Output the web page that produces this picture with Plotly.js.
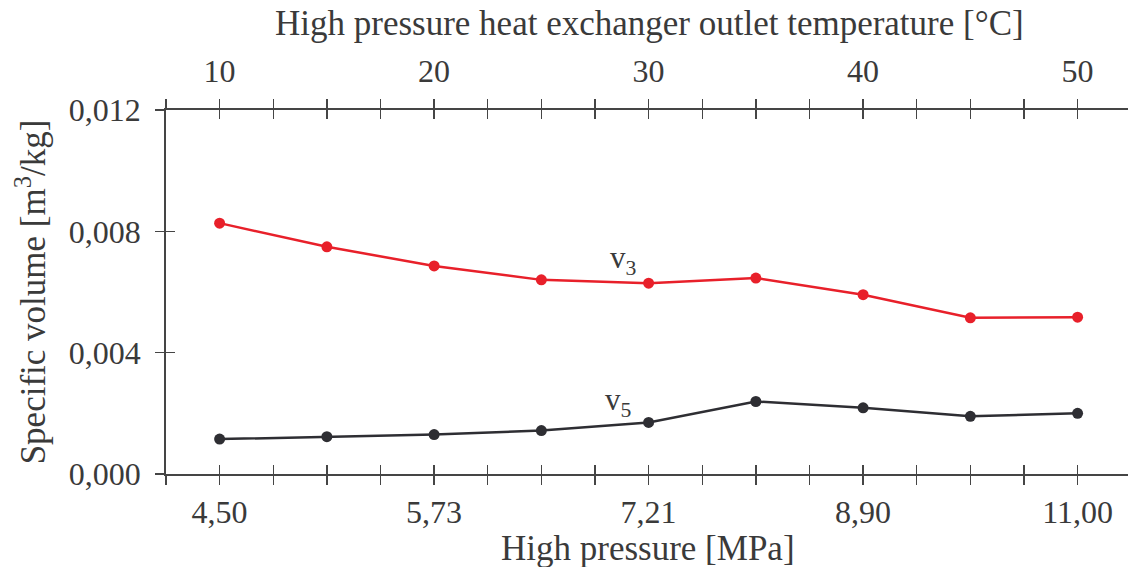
<!DOCTYPE html>
<html>
<head>
<meta charset="utf-8">
<script src="https://cdn.plot.ly/plotly-3.0.1.min.js"></script>
<style>html,body{margin:0;padding:0;background:#fff;}#chart{width:1128px;height:567px;}</style>
</head>
<body>
<div id="chart"></div>
<script>
// Data
const temperatures = [10, 15, 20, 25, 30, 35, 40, 45, 50];           // top axis [°C]
const v3 = [0.00827, 0.00749, 0.00686, 0.00640, 0.00629, 0.00646, 0.00591, 0.00515, 0.00517];
const v5 = [0.00115, 0.00123, 0.00130, 0.00143, 0.00170, 0.00239, 0.00218, 0.00190, 0.00200];
const tempTicks = [10, 20, 30, 40, 50];
const tempTickText = ['10', '20', '30', '40', '50'];
const pressureTickText = ['4,50', '5,73', '7,21', '8,90', '11,00'];   // bottom axis [MPa]
const yTicks = [0, 0.004, 0.008, 0.012];
const yTickText = ['0,000', '0,004', '0,008', '0,012'];

const FONT = '"Liberation Serif", "Times New Roman", serif';
const TXT = '#3a3a3a';
const AX = '#454545';
const xRange = [7.5, 52.35];
const tickLen = 9;
const TICKSIZE = 32;
const TITLESIZE = 35;

const minorOut = {ticks: 'outside', ticklen: tickLen, tickwidth: 1.3, tickcolor: AX, tick0: 7.5, dtick: 2.5, showgrid: false};
const minorIn = Object.assign({}, minorOut, {ticks: 'inside'});

const traces = [
  {x: temperatures, y: v3, xaxis: 'x2', yaxis: 'y', mode: 'lines+markers', name: 'v3',
   line: {color: '#e8202a', width: 2.5}, marker: {color: '#e8202a', size: 11}, hoverinfo: 'skip'},
  {x: temperatures, y: v5, xaxis: 'x2', yaxis: 'y', mode: 'lines+markers', name: 'v5',
   line: {color: '#2e2e33', width: 2.5}, marker: {color: '#2e2e33', size: 11}, hoverinfo: 'skip'},
  {x: [temperatures[0]], y: [v5[0]], xaxis: 'x3', yaxis: 'y2', mode: 'markers', marker: {opacity: 0}, hoverinfo: 'skip'},
  {x: [temperatures[0]], y: [v5[0]], xaxis: 'x4', yaxis: 'y2', mode: 'markers', marker: {opacity: 0}, hoverinfo: 'skip'},
  {x: [temperatures[0]], y: [v5[0]], xaxis: 'x', yaxis: 'y', mode: 'markers', marker: {opacity: 0}, hoverinfo: 'skip'}
];

const layout = {
  width: 1128, height: 567,
  margin: {l: 166, r: 0, t: 110, b: 93},
  paper_bgcolor: '#fff', plot_bgcolor: '#fff',
  showlegend: false,
  font: {family: FONT, size: TICKSIZE, color: TXT},
  xaxis: {
    range: xRange, anchor: 'y', side: 'bottom',
    tickmode: 'array', tickvals: tempTicks, ticktext: pressureTickText,
    ticks: 'outside', ticklen: tickLen, tickwidth: 1.3, tickcolor: AX,
    minor: minorOut,
    showline: true, linecolor: AX, linewidth: 1.8,
    showgrid: false, zeroline: false,
    tickfont: {family: FONT, size: TICKSIZE, color: TXT},
    ticklabelstandoff: 0
  },
  xaxis2: {
    range: xRange, overlaying: 'x', anchor: 'y', side: 'top',
    tickmode: 'array', tickvals: tempTicks, ticktext: tempTickText,
    ticks: 'outside', ticklen: tickLen, tickwidth: 1.3, tickcolor: AX,
    minor: minorOut,
    showline: true, linecolor: AX, linewidth: 1.8,
    showgrid: false, zeroline: false,
    tickfont: {family: FONT, size: TICKSIZE, color: TXT},
    ticklabelstandoff: 4
  },
  xaxis3: {
    range: xRange, overlaying: 'x', anchor: 'y', side: 'bottom',
    tickmode: 'array', tickvals: tempTicks, ticks: 'inside', ticklen: tickLen, tickwidth: 1.3, tickcolor: AX,
    minor: minorIn, showticklabels: false, showline: false, showgrid: false, zeroline: false
  },
  xaxis4: {
    range: xRange, overlaying: 'x', anchor: 'y', side: 'top',
    tickmode: 'array', tickvals: tempTicks, ticks: 'inside', ticklen: tickLen, tickwidth: 1.3, tickcolor: AX,
    minor: minorIn, showticklabels: false, showline: false, showgrid: false, zeroline: false
  },
  yaxis: {
    range: [0, 0.012], anchor: 'x',
    tickmode: 'array', tickvals: yTicks, ticktext: yTickText,
    ticks: 'outside', ticklen: tickLen, tickwidth: 1.3, tickcolor: AX,
    showline: true, linecolor: AX, linewidth: 1.8,
    showgrid: false, zeroline: false,
    tickfont: {family: FONT, size: TICKSIZE, color: TXT},
    ticklabelstandoff: 8,
    title: {text: 'Specific volume [m<sup>3</sup>/kg]', font: {family: FONT, size: TITLESIZE, color: TXT}, standoff: 12}
  },
  yaxis2: {
    range: [0, 0.012], overlaying: 'y', anchor: 'x', side: 'left',
    tickmode: 'array', tickvals: yTicks, ticks: 'inside', ticklen: tickLen, tickwidth: 1.3, tickcolor: AX,
    showticklabels: false, showline: false, showgrid: false, zeroline: false
  },
  annotations: [
    {xref: 'paper', yref: 'paper', x: 0.503, y: 1.238, yanchor: 'middle', xanchor: 'center',
     text: 'High pressure heat exchanger outlet temperature [°C]', showarrow: false,
     font: {family: FONT, size: TITLESIZE, color: TXT}},
    {xref: 'paper', yref: 'paper', x: 0.501, y: -0.205, yanchor: 'middle', xanchor: 'center',
     text: 'High pressure [MPa]', showarrow: false,
     font: {family: FONT, size: TITLESIZE, color: TXT}},
    {xref: 'x2', yref: 'y', x: 28.8, y: 0.00706, text: 'v<sub>3</sub>', showarrow: false,
     font: {family: FONT, size: 31, color: TXT}},
    {xref: 'x2', yref: 'y', x: 28.55, y: 0.00238, text: 'v<sub>5</sub>', showarrow: false,
     font: {family: FONT, size: 31, color: TXT}}
  ]
};

Plotly.newPlot('chart', traces, layout, {displayModeBar: false, staticPlot: true});
</script>
</body>
</html>
